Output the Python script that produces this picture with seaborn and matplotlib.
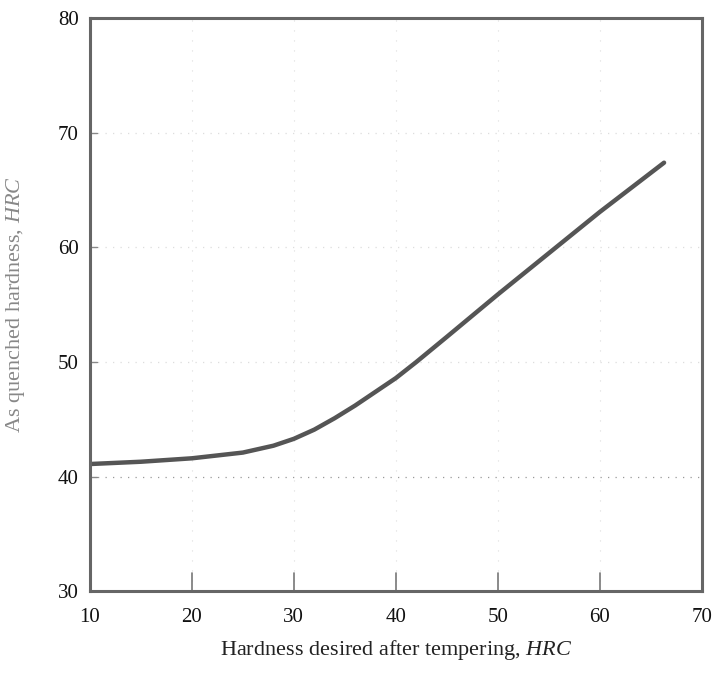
import numpy as np
import pandas as pd
import matplotlib
matplotlib.use("Agg")
import matplotlib.pyplot as plt
import seaborn as sns

# values
tempered_hrc = [10, 15, 20, 25, 28, 30, 32, 34, 36, 38, 40, 42, 45, 50, 55, 60, 66.3]
quenched_hrc = [41.1, 41.3, 41.6, 42.1, 42.7, 43.3, 44.1, 45.1, 46.2, 47.4, 48.6, 50.0, 52.2, 55.9, 59.5, 63.1, 67.4]

x_ticks = [10, 20, 30, 40, 50, 60, 70]
y_ticks = [30, 40, 50, 60, 70, 80]

sns.set_theme(style="white")
plt.rcParams['font.family'] = ['Liberation Serif', 'DejaVu Serif']
plt.rcParams['mathtext.fontset'] = 'custom'
plt.rcParams['mathtext.it'] = 'Liberation Serif:italic'

df = pd.DataFrame({"tempered": tempered_hrc, "quenched": quenched_hrc})

fig = plt.figure(figsize=(7.25, 6.78), dpi=100)
ax = fig.add_axes([0.124, 0.128, 0.844, 0.845])

# faint dotted grid like the scan (the 40 line prints darker)
for xv in x_ticks[1:-1]:
    ax.axvline(xv, color="#dddddd", lw=0.8, ls=(0, (1, 8)), zorder=0)
for yv in y_ticks[1:-1]:
    c = "#999999" if yv == 40 else "#dddddd"
    ax.axhline(yv, color=c, lw=0.9, ls=(0, (1, 5)), zorder=0)

sns.lineplot(data=df, x="tempered", y="quenched", ax=ax, color="#555555",
             lw=3.2, sort=True)

ax.set_xlim(10, 70)
ax.set_ylim(30, 80)
ax.set_xticks(x_ticks)
ax.set_yticks(y_ticks)
ax.tick_params(axis="both", direction="in", length=0, labelsize=15, colors="#111111", pad=8)
ax.tick_params(axis="x", pad=12)
# long inward ticks on the bottom axis
for xv in x_ticks[1:-1]:
    ax.plot([xv, xv], [30, 31.6], color="#777777", lw=1.2, zorder=1)
for yv in y_ticks[1:-1]:
    ax.plot([10, 10.7], [yv, yv], color="#888888", lw=1.0, zorder=1)

for side in ax.spines.values():
    side.set_color("#666666")
    side.set_linewidth(2.2)

ax.set_xlabel("Hardness desired after tempering, $\\it{HRC}$", fontsize=16, color="#222222", labelpad=8)
ax.set_ylabel("As quenched hardness, $\\it{HRC}$", fontsize=16, color="#888888", labelpad=22)

fig.savefig("out.png", dpi=100)
